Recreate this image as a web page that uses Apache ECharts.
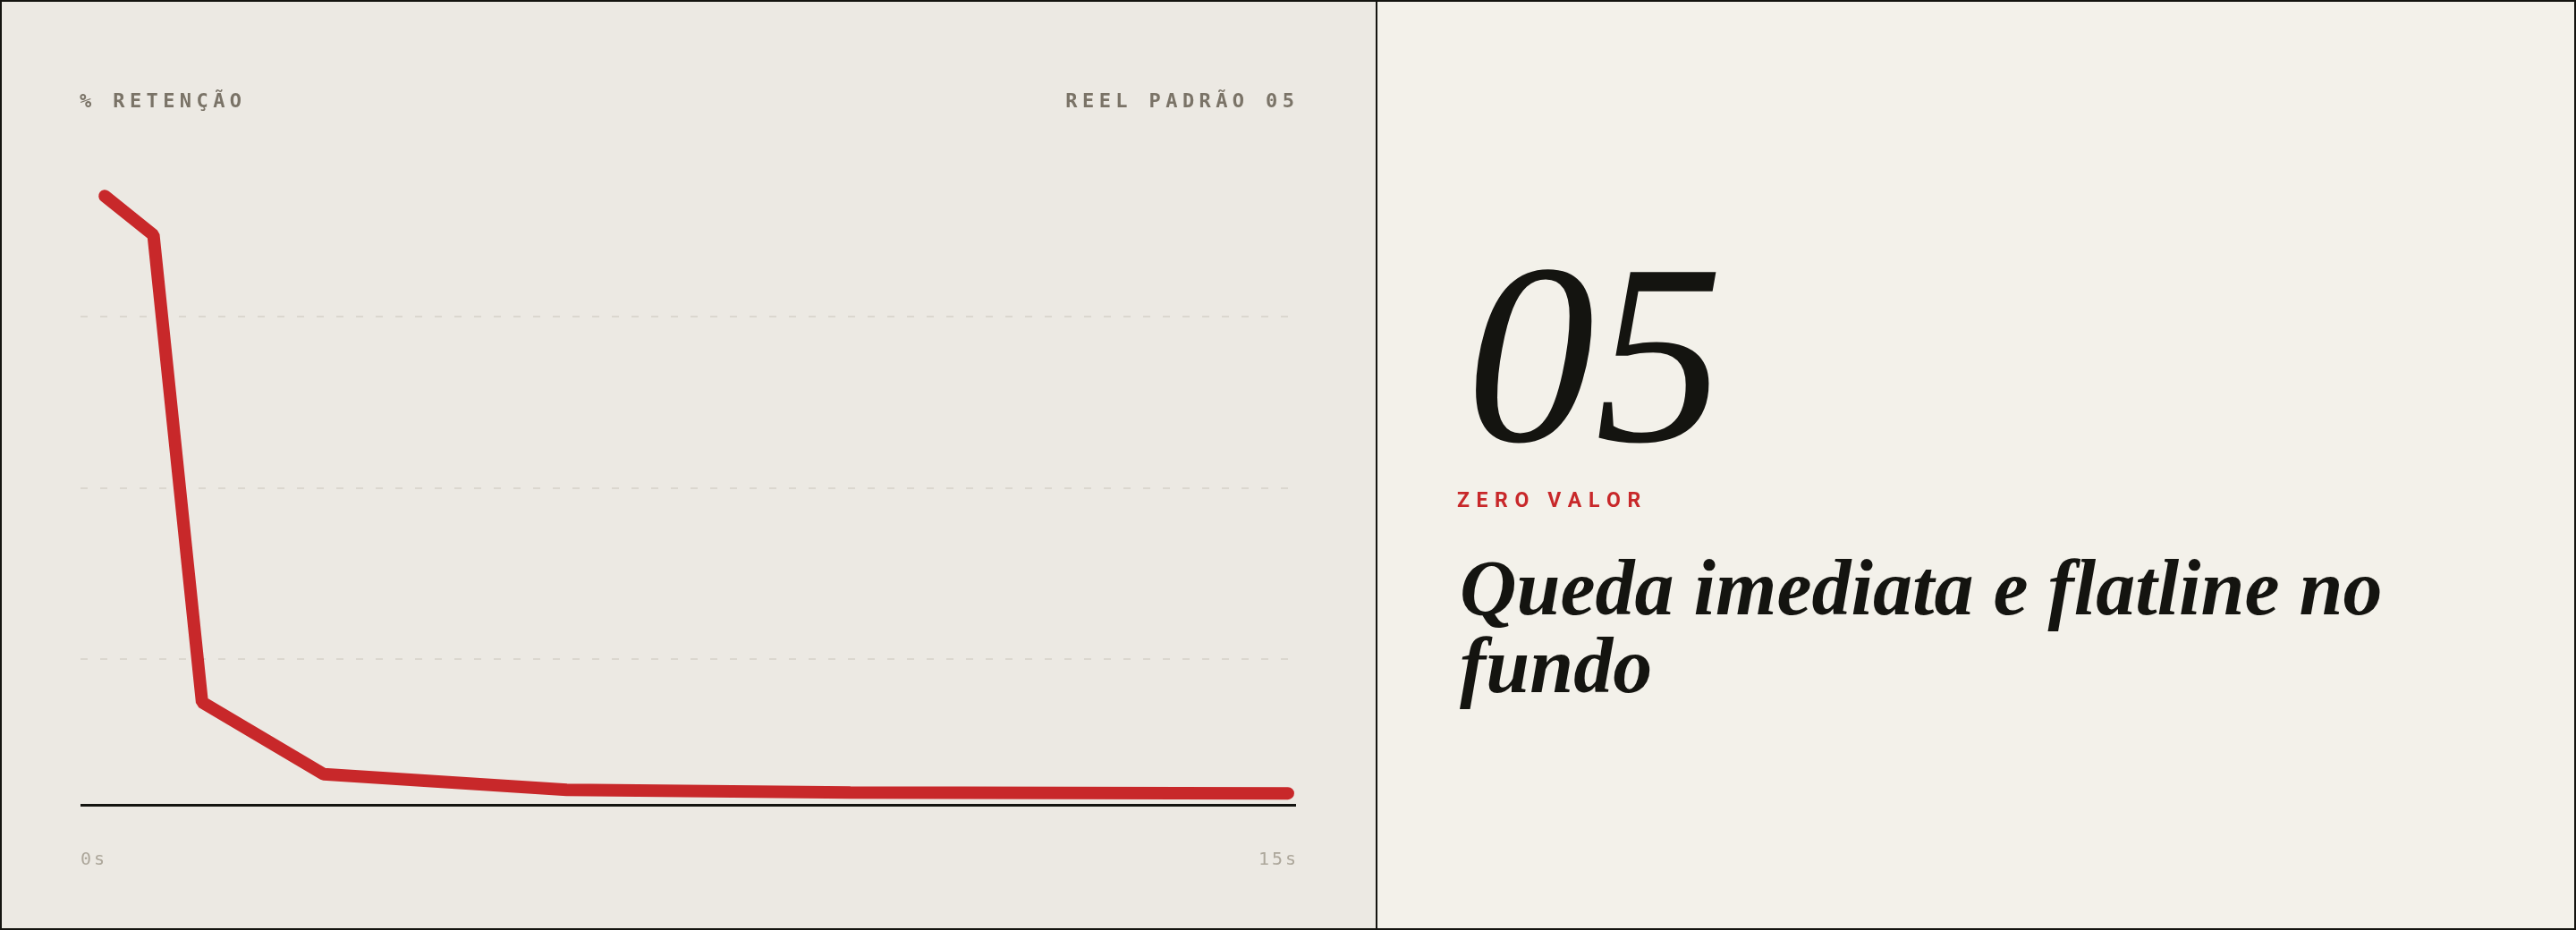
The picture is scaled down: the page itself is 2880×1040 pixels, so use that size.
<!DOCTYPE html>
<html>
<head>
<meta charset="utf-8">
<script src="https://cdn.jsdelivr.net/npm/echarts@6.0.0/dist/echarts.min.js"></script>
<style>
html,body{margin:0;padding:0;background:#ECE9E3;}
#chart{width:2880px;height:1040px;}
</style>
</head>
<body>
<div id="chart"></div>
<script>
// ---- data ----
const timeSec      = [0.3, 0.9, 1.5, 3.0, 6.0, 9.5, 14.9];
const retentionPct = [92.6, 86.9, 18.7, 8.2, 5.9, 5.5, 5.4];
const xTickValues  = [0, 15];
const yRange       = [0, 100];
const yGridStep    = 25;
const baselinePct  = 3.65;
const yAxisTitle   = '% RETENÇÃO';
const reelLabel    = 'REEL PADRÃO 05';
const patternNum   = '05';
const patternTag   = 'ZERO VALOR';
const headline     = 'Queda imediata e flatline no\nfundo';

// ---- helpers ----
function spaced(str, key) {
  const chars = Array.from(str);
  return chars.map((c, i) => '{' + (i === chars.length - 1 ? key + 'E' : key) + '|' + c + '}').join('');
}
function richPair(key, base, spacing) {
  const o = {};
  o[key] = Object.assign({}, base, { padding: [0, spacing, 0, 0] });
  o[key + 'E'] = Object.assign({}, base, { padding: 0 });
  return o;
}

const monoTop = { fontFamily: 'DejaVu Sans Mono', fontSize: 22, color: '#7A7367', lineHeight: 24 };
const monoAxis = { fontFamily: 'DejaVu Sans Mono', fontSize: 20, color: '#ADA79B', lineHeight: 20 };
const tagStyle = { fontFamily: 'Roboto', fontWeight: 700, fontSize: 23, color: '#C8282A', lineHeight: 24 };

const seriesData = timeSec.map((t, i) => [t, retentionPct[i]]);

const chart = echarts.init(document.getElementById('chart'), null, { renderer: 'canvas' });

const option = {
  animation: false,
  backgroundColor: '#ECE9E3',
  title: [
    { text: spaced(yAxisTitle, 'm'), left: 89, top: 102.5, padding: 0,
      textStyle: { rich: richPair('m', monoTop, 5.4) } },
    { text: spaced(reelLabel, 'm'), right: 1433, top: 102.5, padding: 0,
      textStyle: { rich: richPair('m', monoTop, 5.4) } },
    { text: spaced(patternTag, 'r'), left: 1629, top: 549, padding: 0,
      textStyle: { rich: richPair('r', tagStyle, 7.6) } }
  ],
  grid: { left: 90, right: 1431, top: 162.5, bottom: 111.5, containLabel: false },
  xAxis: {
    type: 'value',
    min: xTickValues[0],
    max: xTickValues[xTickValues.length - 1],
    interval: xTickValues[xTickValues.length - 1] - xTickValues[0],
    axisLine: { show: false },
    axisTick: { show: false },
    splitLine: { show: false },
    axisLabel: {
      margin: 23,
      alignMinLabel: 'left',
      alignMaxLabel: 'right',
      formatter: v => spaced(v + 's', 'a'),
      rich: richPair('a', monoAxis, 3)
    }
  },
  yAxis: {
    type: 'value',
    min: yRange[0],
    max: yRange[1],
    interval: yGridStep,
    axisLine: { show: false },
    axisTick: { show: false },
    axisLabel: { show: false },
    splitLine: {
      show: true,
      showMinLine: false,
      showMaxLine: false,
      lineStyle: { color: '#DBD7CF', width: 2, type: [8, 14] }
    }
  },
  series: [{
    type: 'line',
    data: seriesData,
    showSymbol: false,
    symbol: 'none',
    silent: true,
    z: 5,
    lineStyle: { color: '#C8282A', width: 14, cap: 'round', join: 'bevel' },
    markLine: {
      silent: true,
      symbol: ['none', 'none'],
      label: { show: false },
      lineStyle: { color: '#141410', width: 3, type: 'solid' },
      emphasis: { disabled: true },
      data: [{ yAxis: baselinePct }]
    }
  }],
  graphic: [
    { type: 'rect', z: 0, shape: { x: 1540, y: 0, width: 1340, height: 1040 }, style: { fill: '#F3F1EA' } },
    { type: 'rect', z: 20, shape: { x: 1538, y: 0, width: 2, height: 1040 }, style: { fill: '#141410' } },
    { type: 'rect', z: 20, shape: { x: 1, y: 1, width: 2878, height: 1038 }, style: { fill: null, stroke: '#141410', lineWidth: 2 } },
    { type: 'text', z: 10, style: {
        text: patternNum, x: 1639, y: 417,
        font: 'italic 400 288px "Liberation Serif"',
        fill: '#141410',
        align: 'left', textAlign: 'left', verticalAlign: 'middle', textVerticalAlign: 'middle'
    } },
    { type: 'text', z: 10, style: {
        text: headline, x: 1632, y: 621,
        font: 'italic bold 88px "Liberation Serif"',
        lineHeight: 87,
        fill: '#141410',
        align: 'left', textAlign: 'left', verticalAlign: 'top', textVerticalAlign: 'top'
    } }
  ]
};

chart.setOption(option);
</script>
</body>
</html>
